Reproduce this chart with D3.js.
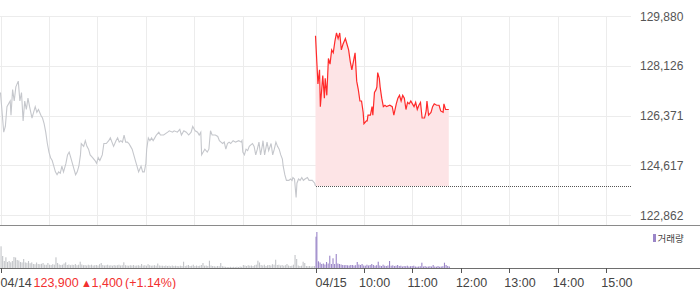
<!DOCTYPE html>
<html><head><meta charset="utf-8">
<script src="https://cdn.jsdelivr.net/npm/d3@7"></script>
<style>html,body{margin:0;padding:0;background:#fff;}svg{display:block;}</style>
</head><body><svg id="c" width="700" height="289"></svg>
<script>
// ---------- data ----------
const dates = ["04/14", "04/15"];
const prevClose = 123900;
const yTickValues = [129880, 128126, 126371, 124617, 122862];
const yTickLabels = ["129,880", "128,126", "126,371", "124,617", "122,862"];
const gridHours = ["09:00", "10:00", "11:00", "12:00", "13:00", "14:00", "15:00"];
const axisLabels = ["04/14", "04/15", "10:00", "11:00", "12:00", "13:00", "14:00", "15:00"];
const axisLabelDays = [0, 1, 1, 1, 1, 1, 1, 1];
const axisLabelTimes = ["09:00", "09:00", "10:00", "11:00", "12:00", "13:00", "14:00", "15:00"];
const infoTexts = ["123,900", "\u25B2", "1,400", "(+1.14%)"];
const legendLabel = "거래량";

const day1Times = ["09:00","09:04","09:06","09:08","09:12","09:13","09:15","09:17","09:19","09:22",
"09:24","09:26","09:28","09:30","09:32","09:34","09:36","09:39","09:41","09:43",
"09:45","09:47","09:50","09:52","09:54","09:56","09:58","10:00","10:02","10:04",
"10:06","10:08","10:10","10:12","10:14","10:16","10:18","10:21","10:23","10:25",
"10:27","10:29","10:31","10:33","10:35","10:37","10:39","10:40","10:43","10:45",
"10:47","10:49","10:51","10:54","10:57","10:59","11:01","11:03","11:06","11:08",
"11:11","11:14","11:16","11:18","11:20","11:23","11:25","11:27","11:29","11:31",
"11:33","11:35","11:37","11:39","11:41","11:43","11:45","11:47","11:49","11:51",
"11:54","11:56","11:58","12:00","12:01","12:03","12:05","12:07","12:09","12:11",
"12:13","12:16","12:18","12:22","12:27","12:29","12:33","12:35","12:39","12:42",
"12:44","12:47","12:50","12:53","12:56","12:58","13:01","13:04","13:06","13:08",
"13:09","13:11","13:13","13:16","13:18","13:20","13:22","13:26","13:29","13:31",
"13:33","13:35","13:37","13:39","13:41","13:43","13:45","13:48","13:51","13:55",
"13:58","13:59","14:00","14:02","14:04","14:06","14:08","14:10","14:12","14:14",
"14:16","14:18","14:20","14:22","14:24","14:25","14:27","14:30","14:32","14:35",
"14:37","14:39","14:41","14:43","14:45","14:47","14:49","14:50","14:52","14:54",
"14:57","14:59","15:01","15:02","15:04","15:06","15:07","15:09","15:11","15:13",
"15:15","15:17","15:20","15:22","15:26","15:29","15:30"];
const day1Prices = [127200,125800,126000,126700,126900,126400,127300,126900,127400,127600,
126900,127200,126200,126900,126600,127000,126700,126300,126500,126700,
126500,126600,126400,126300,126100,125800,125400,125100,124900,124800,
124600,124400,124300,124400,124350,124600,124400,124700,125000,125100,
124900,124700,124500,124300,124400,124600,125000,125400,125300,125500,
125300,125200,125000,124900,124800,124700,124900,124800,125000,125400,
125400,125500,125600,125450,125300,125500,125600,125450,125500,125450,
125700,125450,125450,125400,125300,125200,125000,124800,124600,124400,
124600,124400,124400,124700,125200,125600,125500,125600,125500,125600,
125700,125800,125700,125700,125800,125850,125800,125850,125800,125900,
125700,125850,125800,125700,125800,126000,125850,125800,125700,125800,
125000,125100,125200,125100,125200,125850,125700,125700,125650,125500,
125450,125400,125450,125200,125400,125450,125400,125500,125450,125500,
125450,125500,125100,125000,125200,125150,125300,125350,125400,125300,
125000,125200,125450,125000,125300,125500,125000,125450,125150,125400,
125000,125200,125450,125300,125200,125000,124850,124600,124300,124100,
124100,124150,124100,124200,124150,123500,124000,124150,124100,124200,
124100,124150,124200,124100,124100,124000,123900];

const day2Times = ["09:00","09:03","09:05","09:06","09:09","09:11","09:12","09:14","09:16","09:18",
"09:20","09:22","09:24","09:26","09:28","09:30","09:32","09:34","09:37","09:39",
"09:41","09:43","09:45","09:47","09:49","09:51","09:53","09:55","09:57","09:59",
"10:00","10:03","10:04","10:05","10:08","10:10","10:11","10:13","10:15","10:16",
"10:17","10:19","10:20","10:22","10:24","10:26","10:28","10:32","10:35","10:37",
"10:40","10:42","10:44","10:46","10:48","10:50","10:52","10:54","10:56","10:58",
"11:00","11:02","11:04","11:06","11:08","11:10","11:12","11:15","11:17","11:18",
"11:20","11:23","11:25","11:27","11:30","11:33","11:35","11:38","11:39","11:41","11:45"];
const day2Prices = [129200,127500,128000,126700,127800,127000,127700,127100,128400,128200,
128700,128600,129000,129300,129100,129300,128700,128900,129100,128900,
128700,128300,128000,128300,128600,127600,127300,126900,126900,126500,
126100,126200,126200,126400,126400,126700,126400,127200,127300,127400,
127900,127700,127400,127000,126700,126750,126700,126750,126700,126400,
126800,127000,127100,126900,127100,127000,126600,126850,126800,126900,
126800,126700,126850,126600,126750,126850,126300,126300,126550,126900,
126400,126500,126700,126800,126750,126750,126550,126500,126800,126600,126600];

// volume (shares), day 1 in 2-minute bins from 09:00
const day1Vol = [2170,1200,700,1070,600,700,570,700,1100,1050,
800,750,600,560,900,560,520,700,480,560,
400,380,550,400,380,420,500,330,320,500,
330,300,380,330,1070,500,350,300,330,450,
570,300,350,280,330,300,400,280,330,630,
350,280,300,250,330,280,330,250,280,300,
250,380,500,300,250,280,330,250,280,230,
300,250,280,330,250,280,570,280,250,230,
280,250,300,230,250,280,230,400,250,280,
230,380,280,230,250,280,230,450,250,230,
230,200,250,200,230,180,250,200,230,200,
180,230,200,630,200,250,300,200,230,330,
200,250,200,230,300,500,230,250,200,730,
250,200,180,150,200,180,500,180,150,120,
100,100,120,100,120,100,130,100,150,120,
300,250,200,280,230,250,200,280,330,730,
550,300,250,330,200,280,300,250,380,330,
830,300,330,250,300,230,280,400,250,200,
230,330,1300,900,250,200,230,630,500,200,
180,200,150,180,200];
// day 2: 09:00, 09:01, then 2-minute bins from 09:03
const day2Vol = [3130,3600,
670,550,400,450,350,600,450,1230,400,970,
400,1400,450,400,350,300,280,300,270,250,
300,300,250,280,600,350,300,400,250,230,
330,250,300,400,300,230,280,630,250,200,
330,230,200,250,700,230,270,200,230,300,
200,230,150,200,180,230,150,180,200,230,
150,130,150,180,530,150,200,130,150,180,
150,300,150,130,200,130,150,180,530,300,
200,150];

// ---------- helpers ----------
const toMin = (s) => { const [h, m] = s.split(":").map(Number); return (h - 9) * 60 + m; };
const pad = (n) => String(n).padStart(2, "0");
const fmt = (mins) => pad(9 + Math.floor(mins / 60)) + ":" + pad(mins % 60);
const sess = (day, s) => day * 390 + toMin(s);

const day1VolTimes = d3.range(day1Vol.length).map(i => fmt(i * 2));
const day2VolTimes = ["09:00", "09:01"].concat(d3.range(3, 3 + 2 * (day2Vol.length - 2), 2).map(fmt));

// ---------- scales ----------
const svg = d3.select("#c");
const x = d3.scaleLinear().domain([0, 780]).range([0.5, 630.5]);
const y = d3.scaleLinear().domain([122862, 129880]).range([215.5, 16.5]);
const yv = d3.scaleLinear().domain([0, 4200]).range([268, 226]);

const FONT = "'Liberation Sans', Arial, sans-serif";

// ---------- grid ----------
const gridTimes = [];
[0, 1].forEach(d => gridHours.forEach(h => gridTimes.push(sess(d, h))));
svg.append("g").selectAll("line").data(gridTimes).join("line")
  .attr("x1", d => Math.round(x(d)) + 0.5).attr("x2", d => Math.round(x(d)) + 0.5)
  .attr("y1", 16).attr("y2", 225)
  .attr("stroke", "#ececec").attr("stroke-width", 1);
svg.append("g").selectAll("line").data(yTickValues).join("line")
  .attr("x1", 0).attr("x2", 631)
  .attr("y1", d => Math.round(y(d) - 0.5) + 0.5).attr("y2", d => Math.round(y(d) - 0.5) + 0.5)
  .attr("stroke", "#ececec").attr("stroke-width", 1);

// y labels
svg.append("g").selectAll("text").data(yTickValues).join("text")
  .attr("x", 640).attr("y", d => y(d) + 4)
  .attr("font-family", FONT).attr("font-size", 12).attr("fill", "#555")
  .text((d, i) => yTickLabels[i]);

// ---------- series ----------
const d1 = day1Times.map((t, i) => ({ t: sess(0, t), v: day1Prices[i] }));
const d2 = day2Times.map((t, i) => ({ t: sess(1, t), v: day2Prices[i] }));

// fill under today's line down to previous close
svg.append("path").datum(d2)
  .attr("d", d3.area().x(d => x(d.t)).y0(y(prevClose)).y1(d => y(d.v)))
  .attr("fill", "#fde4e6");

// previous close dotted line
svg.append("line")
  .attr("x1", Math.round(x(sess(1, "09:00")))).attr("x2", 631)
  .attr("y1", Math.round(y(prevClose)) + 0.5).attr("y2", Math.round(y(prevClose)) + 0.5)
  .attr("stroke", "#555").attr("stroke-width", 1).attr("stroke-dasharray", "1,1")
  .attr("shape-rendering", "crispEdges");

svg.append("path").datum(d1)
  .attr("d", d3.line().x(d => x(d.t)).y(d => y(d.v)))
  .attr("fill", "none").attr("stroke", "#c5c7cc").attr("stroke-width", 1.1);

svg.append("path").datum(d2)
  .attr("d", d3.line().x(d => x(d.t)).y(d => y(d.v)))
  .attr("fill", "none").attr("stroke", "#ff2a2a").attr("stroke-width", 1.2);

// ---------- panel borders ----------
svg.append("line").attr("x1", 0).attr("x2", 700).attr("y1", 225.5).attr("y2", 225.5)
  .attr("stroke", "#8a8a8a").attr("stroke-width", 1);

// ---------- volume ----------
svg.append("g").selectAll("rect").data(day1Vol).join("rect")
  .attr("x", (d, i) => x(sess(0, day1VolTimes[i])))
  .attr("width", 1.1)
  .attr("y", d => yv(d)).attr("height", d => yv(0) - yv(d))
  .attr("fill", "#c3c5c9");
svg.append("g").selectAll("rect").data(day2Vol).join("rect")
  .attr("x", (d, i) => x(sess(1, day2VolTimes[i])))
  .attr("width", 1.1)
  .attr("y", d => yv(d)).attr("height", d => yv(0) - yv(d))
  .attr("fill", "#9b86c8");

svg.append("line").attr("x1", 0).attr("x2", 700).attr("y1", 268.5).attr("y2", 268.5)
  .attr("stroke", "#6e6e6e").attr("stroke-width", 1);

// legend
svg.append("rect").attr("x", 653).attr("y", 234).attr("width", 3).attr("height", 8).attr("fill", "#9b86c8");
svg.append("text").attr("x", 657.5).attr("y", 241.5)
  .attr("font-family", "'Noto Sans CJK KR', sans-serif").attr("font-size", 9.5).attr("fill", "#444")
  .text(legendLabel);

// ---------- x axis ----------
const labelPos = axisLabels.map((l, i) => x(sess(axisLabelDays[i], axisLabelTimes[i])));
svg.append("g").selectAll("line").data(labelPos).join("line")
  .attr("x1", d => Math.round(d) + 0.5).attr("x2", d => Math.round(d) + 0.5)
  .attr("y1", 268).attr("y2", 273).attr("stroke", "#555");
svg.append("g").selectAll("text").data(axisLabels).join("text")
  .attr("x", (d, i) => labelPos[i] + (d.includes("/") ? 0 : -5))
  .attr("y", 287)
  .attr("font-family", FONT).attr("font-size", 12.5).attr("fill", "#444")
  .text(d => d);

// previous-day info text
const infoX = [33.5, 81, 91.5, 125];
const infoSize = [12.5, 11, 12.5, 12.5];
svg.append("g").selectAll("text").data(infoTexts).join("text")
  .attr("x", (d, i) => infoX[i]).attr("y", 287)
  .attr("font-family", FONT).attr("font-size", (d, i) => infoSize[i]).attr("fill", "#f2302f")
  .text(d => d);
</script></body></html>
